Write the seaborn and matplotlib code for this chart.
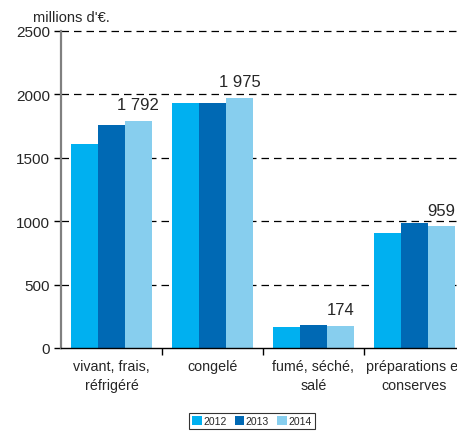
import numpy as np
import pandas as pd
import matplotlib
matplotlib.use("Agg")
import matplotlib.pyplot as plt
import seaborn as sns

categories = ["vivant, frais,\nréfrigéré", "congelé", "fumé, séché,\nsalé", "préparations et\nconserves"]
years = ["2012", "2013", "2014"]
v2012 = [1610, 1930, 166, 910]
v2013 = [1760, 1930, 181, 985]
v2014 = [1792, 1975, 174, 959]
labels_2014 = ["1 792", "1 975", "174", "959"]
colors = ["#00B0F0", "#0069B4", "#87CEEE"]

rows = []
for i, c in enumerate(categories):
    for y, vals in zip(years, [v2012, v2013, v2014]):
        rows.append({"cat": c, "year": y, "val": vals[i]})
df = pd.DataFrame(rows)

sns.set_style("white")
plt.rcParams['font.family'] = ['Liberation Sans', 'DejaVu Sans']

fig = plt.figure(figsize=(4.57, 4.35), dpi=100)
ax = fig.add_axes([61/457, 86/435, 404/457, 317/435])

sns.barplot(data=df, x="cat", y="val", hue="year", palette=colors,
            width=0.8, saturation=1, linewidth=0, ax=ax, legend=True)

ax.set_ylim(0, 2500)
ax.set_xlim(-0.5, 3.5)
ax.set_yticks([0, 500, 1000, 1500, 2000, 2500])
ax.set_yticklabels(["0", "500", "1000", "1500", "2000", "2500"], fontsize=11)
for yv in [500, 1000, 1500, 2000, 2500]:
    ax.axhline(yv, color="black", lw=0.9, dashes=(6, 4), zorder=0, clip_on=False)

ax.set_xticks(range(len(categories)))
ax.set_xticklabels(categories, fontsize=10.3, linespacing=1.45)
ax.set_xticks([0.5, 1.5, 2.5], minor=True)
ax.tick_params(axis="x", which="major", length=0, pad=8)
ax.tick_params(axis="x", which="minor", bottom=True, length=5, width=1, color="black", direction="out")
ax.tick_params(axis="y", left=True, length=5, width=1, color="black", direction="out", pad=3)
ax.set_xlabel("")
ax.set_ylabel("")

for s in ["top", "right"]:
    ax.spines[s].set_visible(False)
ax.spines["left"].set_color("#808080")
ax.spines["left"].set_linewidth(1.6)
ax.spines["bottom"].set_color("black")
ax.spines["bottom"].set_linewidth(1)

# labels above the 2014 bars
bars14 = ax.containers[2]
for bar, lab in zip(bars14, labels_2014):
    ax.text(bar.get_x() + bar.get_width() / 2, bar.get_height() + 70, lab,
            ha="center", va="bottom", fontsize=12)

fig.text(33/457, 1 - 18/435, "millions d'€.", fontsize=10.5, ha="left", va="center")

ax.get_legend().remove()
handles, lbls = ax.get_legend_handles_labels()
leg = fig.legend(handles, lbls, loc="center", bbox_to_anchor=(252/457, 1 - 422/435),
                 ncol=3, fontsize=7.5, frameon=True, fancybox=False,
                 handlelength=0.9, handleheight=0.9, handletextpad=0.15,
                 columnspacing=0.8, borderpad=0.3, edgecolor="black")
leg.get_frame().set_linewidth(0.8)

fig.savefig("out.png", dpi=100)
